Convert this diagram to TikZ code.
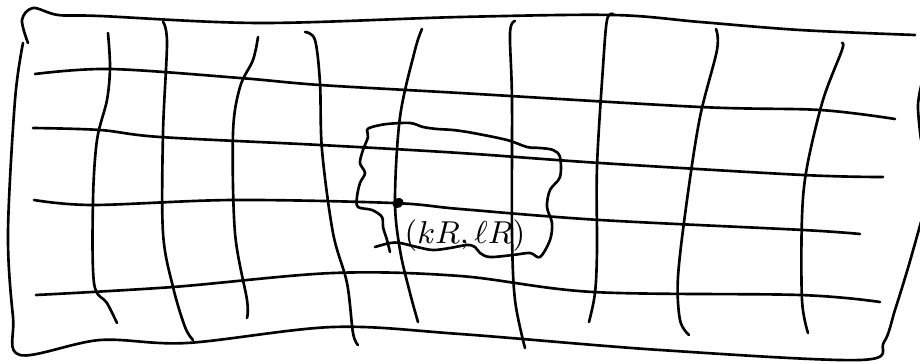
\documentclass[tikz,border=0pt]{standalone}
\begin{document}
\begin{tikzpicture}[x=0.01cm, y=-0.01cm, line join=round, line cap=round, font=\fontsize{9}{10}\selectfont]
		\tikzset{
		pen/.style={black, line width=0.75pt},
		hand/.style={smooth, tension=0.55}
		}
		\useasboundingbox (0,0) rectangle (920,364);
		% frame
		\draw[pen] plot[hand] coordinates {(28,43) (22,20) (33,8) (58,15) (100,16) (260,23) (460,17) (613,15) (700,22) (800,30) (915,35)};
		\draw[pen] plot[hand] coordinates {(923,78) (918,105) (921,140)};
		\draw[pen] plot[hand] coordinates {(921,222) (908,268) (895,310) (884,342) (860,360) (660,350) (460,334) (333,327) (187,343) (100,340) (20,355) (13,317) (8,233) (15,100) (23,43)};
		% rows
		\draw[pen] plot[hand] coordinates {(35,74) (110,69) (240,78) (320,85) (460,93) (700,107) (820,110) (895,119)};
		\draw[pen] plot[hand] coordinates {(33,128) (100,130) (160,137) (320,145) (460,153) (600,163) (803,175) (883,177)};
		\draw[pen] plot[hand] coordinates {(34,200) (93,205) (233,200) (393,203) (460,209) (600,220) (803,230) (860,234)};
		\draw[pen] plot[hand] coordinates {(36,295) (173,287) (333,273) (460,276) (593,292) (800,295) (880,302)};
		% columns
		\draw[pen] plot[hand] coordinates {(108,33) (110,67) (107,100) (97,140) (93,200) (94,283) (107,303) (117,323)};
		\draw[pen] plot[hand] coordinates {(163,22) (167,43) (163,133) (163,233) (173,287) (185,327) (193,340)};
		\draw[pen] plot[hand] coordinates {(258,37) (253,60) (240,87) (233,133) (235,233) (247,300) (247,318)};
		\draw[pen] plot[hand] coordinates {(305,32) (315,40) (320,83) (322,150) (333,233) (347,283) (353,333) (358,345)};
		\draw[pen] plot[hand] coordinates {(422,29) (415,50) (400,117) (395,200) (400,250) (410,293) (418,322)};
		\draw[pen] plot[hand] coordinates {(515,21) (510,33) (512,100) (512,233) (515,300) (525,348)};
		\draw[pen] plot[hand] coordinates {(613,14) (607,20) (603,67) (597,167) (597,250) (595,293) (589,322)};
		\draw[pen] plot[hand] coordinates {(716,29) (717,50) (700,117) (687,200) (678,277) (680,320) (689,335)};
		\draw[pen] plot[hand] coordinates {(842,43) (842,50) (823,100) (807,167) (802,217) (802,300) (808,333)};
		% region round the point
		\draw[pen] plot[hand] coordinates {(390,252) (387,240) (383,227) (382,217) (372,210) (358,207) (357,197) (360,183) (365,173) (360,163) (363,150) (368,137) (367,130) (372,127) (387,124) (410,123) (423,127) (437,129) (453,130) (473,133) (507,140) (527,147) (540,148) (553,150) (560,157) (560,177) (550,190) (547,207) (552,223) (550,240) (540,257) (530,253) (513,255) (490,257) (480,253) (475,247) (467,245) (450,248) (433,250) (417,247) (400,243) (390,243) (375,247)};
		% the point and its label
		\coordinate (p) at (398,203);
		\draw[pen, fill=black, rotate around={30:(p)}] (p) ellipse (4.5 and 3.5);
		\node[inner sep=0pt] (lab) at (465,236) {$(kR,\ell R)$};
	\end{tikzpicture}
\end{document}
